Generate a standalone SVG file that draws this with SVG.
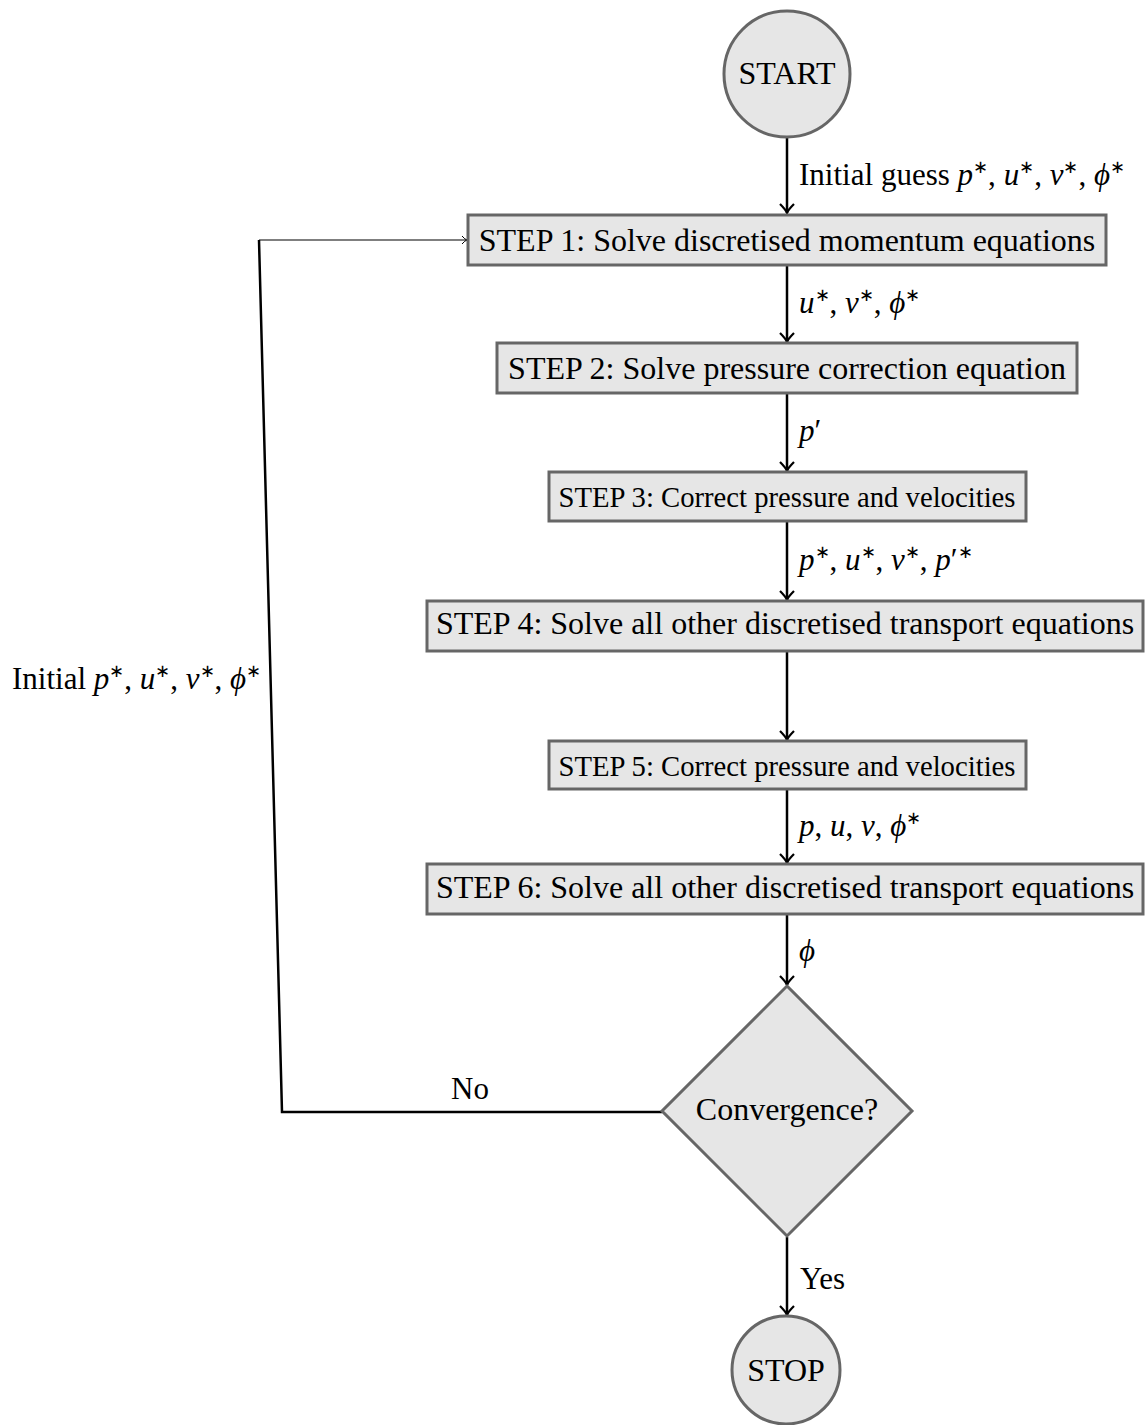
<svg xmlns="http://www.w3.org/2000/svg" width="1146" height="1425" viewBox="0 0 1146 1425">
<style>
.n{fill:#e6e6e6;stroke:#666;stroke-width:3}
.t{font-family:"Liberation Serif","Times New Roman",serif;font-size:32px;fill:#000}
.l{font-size:31px}
.m{font-size:28.7px}
.c{text-anchor:middle}
.i{font-style:italic}
.s{font-size:18px}
.e{stroke:#000;stroke-width:2.5;fill:none}
.th{stroke:#000;stroke-width:1.2;fill:none}
</style>
<defs>
<marker id="ah" markerUnits="userSpaceOnUse" markerWidth="20" markerHeight="20" viewBox="-10 -10 20 20" refX="0" refY="0" orient="auto">
<path d="M-9,-7 Q-3,-1 0,0 Q-3,1 -9,7" fill="none" stroke="#000" stroke-width="2.2"/>
</marker>
<marker id="ahs" markerUnits="userSpaceOnUse" markerWidth="12" markerHeight="12" viewBox="-6 -6 12 12" refX="0" refY="0" orient="auto">
<path d="M-5,-4 Q-2,-0.5 0,0 Q-2,0.5 -5,4" fill="none" stroke="#000" stroke-width="1"/>
</marker>
</defs>
<g id="connectors">
<line class="e" x1="787" y1="137" x2="787" y2="213" marker-end="url(#ah)"/>
<line class="e" x1="787" y1="266" x2="787" y2="342" marker-end="url(#ah)"/>
<line class="e" x1="787" y1="394" x2="787" y2="471" marker-end="url(#ah)"/>
<line class="e" x1="787" y1="522" x2="787" y2="600" marker-end="url(#ah)"/>
<line class="e" x1="787" y1="652" x2="787" y2="740" marker-end="url(#ah)"/>
<line class="e" x1="787" y1="790" x2="787" y2="863" marker-end="url(#ah)"/>
<line class="e" x1="787" y1="915" x2="787" y2="985" marker-end="url(#ah)"/>
<line class="e" x1="787" y1="1237" x2="787" y2="1315" marker-end="url(#ah)"/>
<polyline class="e" stroke-width="3.2" points="662,1112 282,1112 259,240"/>
<line class="th" x1="259" y1="240" x2="467" y2="240" marker-end="url(#ahs)"/>
<text class="t l" x="799" y="185" textLength="326">Initial guess <tspan class="i">p</tspan><tspan class="s" dy="-12">∗</tspan><tspan dy="12">, </tspan><tspan class="i">u</tspan><tspan class="s" dy="-12">∗</tspan><tspan dy="12">, </tspan><tspan class="i">v</tspan><tspan class="s" dy="-12">∗</tspan><tspan dy="12">, </tspan><tspan class="i">ϕ</tspan><tspan class="s" dy="-12">∗</tspan></text>
<text class="t l" x="799" y="313"><tspan class="i">u</tspan><tspan class="s" dy="-12">∗</tspan><tspan dy="12">, </tspan><tspan class="i">v</tspan><tspan class="s" dy="-12">∗</tspan><tspan dy="12">, </tspan><tspan class="i">ϕ</tspan><tspan class="s" dy="-12">∗</tspan></text>
<text class="t l" x="799" y="441"><tspan class="i">p</tspan>′</text>
<text class="t l" x="799" y="570"><tspan class="i">p</tspan><tspan class="s" dy="-12">∗</tspan><tspan dy="12">, </tspan><tspan class="i">u</tspan><tspan class="s" dy="-12">∗</tspan><tspan dy="12">, </tspan><tspan class="i">v</tspan><tspan class="s" dy="-12">∗</tspan><tspan dy="12">, </tspan><tspan class="i">p</tspan>′<tspan class="s" dy="-12">∗</tspan></text>
<text class="t l" x="799" y="836"><tspan class="i">p</tspan>, <tspan class="i">u</tspan>, <tspan class="i">v</tspan>, <tspan class="i">ϕ</tspan><tspan class="s" dy="-12">∗</tspan></text>
<text class="t l" x="799" y="961"><tspan class="i">ϕ</tspan></text>
<text class="t l" x="800" y="1289">Yes</text>
<text class="t l" x="451" y="1099">No</text>
<text class="t l" x="12" y="689">Initial <tspan class="i">p</tspan><tspan class="s" dy="-12">∗</tspan><tspan dy="12">, </tspan><tspan class="i">u</tspan><tspan class="s" dy="-12">∗</tspan><tspan dy="12">, </tspan><tspan class="i">v</tspan><tspan class="s" dy="-12">∗</tspan><tspan dy="12">, </tspan><tspan class="i">ϕ</tspan><tspan class="s" dy="-12">∗</tspan></text>
</g>
<g id="start"><circle class="n" cx="787" cy="74" r="63"/><text class="t c" x="787" y="84">START</text></g>
<g id="step1"><rect class="n" x="468" y="215" width="638" height="50"/><text class="t c" x="787" y="251">STEP 1: Solve discretised momentum equations</text></g>
<g id="step2"><rect class="n" x="497" y="343" width="580" height="50"/><text class="t c" x="787" y="379">STEP 2: Solve pressure correction equation</text></g>
<g id="step3"><rect class="n" x="549" y="472" width="477" height="49"/><text class="t m c" x="787" y="507">STEP 3: Correct pressure and velocities</text></g>
<g id="step4"><rect class="n" x="427" y="601" width="716" height="50"/><text class="t c" x="785" y="634">STEP 4: Solve all other discretised transport equations</text></g>
<g id="step5"><rect class="n" x="549" y="741" width="477" height="48"/><text class="t m c" x="787" y="776">STEP 5: Correct pressure and velocities</text></g>
<g id="step6"><rect class="n" x="427" y="864" width="716" height="50"/><text class="t c" x="785" y="898">STEP 6: Solve all other discretised transport equations</text></g>
<g id="convergence"><polygon class="n" points="787,986 912,1111 787,1236 662,1111"/><text class="t c" x="787" y="1120">Convergence?</text></g>
<g id="stop"><circle class="n" cx="786" cy="1370" r="54"/><text class="t c" x="786" y="1381">STOP</text></g>
</svg>
